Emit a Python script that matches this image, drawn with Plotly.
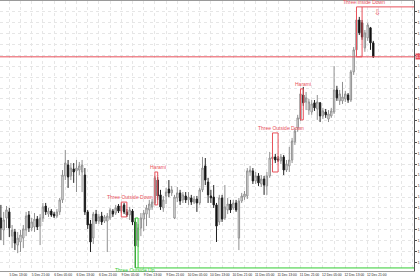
import plotly.graph_objects as go

# ---------------- data (H1 candles, 5 Dec 10:00 -> 12 Dec 23:00) ----------------
open_ = [1.37004, 1.36949, 1.37004, 1.37032, 1.36921, 1.36940, 1.36880, 1.36894, 1.36912, 1.36949,
         1.37018, 1.36958, 1.36963, 1.36999, 1.36967, 1.37004, 1.37059, 1.37022, 1.37036, 1.37022,
         1.37013, 1.37032, 1.37087, 1.37197, 1.37247, 1.37197, 1.37229, 1.37220, 1.37224, 1.37215,
         1.37201, 1.37032, 1.36977, 1.36912, 1.37022, 1.36990, 1.37013, 1.36990, 1.36990, 1.37004,
         1.37036, 1.37027, 1.37059, 1.37036, 1.37064, 1.37032, 1.37018, 1.37036, 1.36986, 1.36903,
         1.36958, 1.36999, 1.37022, 1.37041, 1.37055, 1.37073, 1.37178, 1.37110, 1.37050, 1.37105,
         1.37137, 1.37119, 1.37004, 1.37096, 1.37119, 1.37087, 1.37105, 1.37087, 1.37096, 1.37077,
         1.37091, 1.37073, 1.37133, 1.37243, 1.37169, 1.37105, 1.37100, 1.37064, 1.36986, 1.37096,
         1.37004, 1.37041, 1.37068, 1.37050, 1.37073, 1.36912, 1.37082, 1.37100, 1.37105, 1.37215,
         1.37220, 1.37174, 1.37197, 1.37160, 1.37183, 1.37151, 1.37197, 1.37275, 1.37284, 1.37275,
         1.37266, 1.37284, 1.37224, 1.37243, 1.37270, 1.37353, 1.37417, 1.37458, 1.37568, 1.37536,
         1.37499, 1.37490, 1.37532, 1.37504, 1.37532, 1.37472, 1.37490, 1.37458, 1.37472, 1.37490,
         1.37591, 1.37541, 1.37541, 1.37550, 1.37568, 1.37545, 1.37674, 1.37775, 1.37912, 1.37899,
         1.37784, 1.37830, 1.37876, 1.37807]
high = [1.37064, 1.37032, 1.37059, 1.37050, 1.36972, 1.36954, 1.36940, 1.36949, 1.36972, 1.37032,
        1.37036, 1.37004, 1.37027, 1.37013, 1.37022, 1.37073, 1.37073, 1.37050, 1.37045, 1.37032,
        1.37045, 1.37096, 1.37224, 1.37316, 1.37270, 1.37256, 1.37256, 1.37270, 1.37261, 1.37270,
        1.37233, 1.37041, 1.36995, 1.37032, 1.37041, 1.37022, 1.37032, 1.37018, 1.37027, 1.37050,
        1.37045, 1.37064, 1.37068, 1.37073, 1.37073, 1.37045, 1.37055, 1.37045, 1.37004, 1.36977,
        1.37027, 1.37041, 1.37064, 1.37087, 1.37091, 1.37197, 1.37192, 1.37133, 1.37105, 1.37142,
        1.37178, 1.37151, 1.37110, 1.37146, 1.37133, 1.37123, 1.37123, 1.37123, 1.37110, 1.37105,
        1.37105, 1.37142, 1.37284, 1.37279, 1.37188, 1.37133, 1.37155, 1.37073, 1.37110, 1.37110,
        1.37155, 1.37096, 1.37087, 1.37087, 1.37087, 1.37096, 1.37119, 1.37128, 1.37233, 1.37243,
        1.37233, 1.37215, 1.37210, 1.37201, 1.37197, 1.37215, 1.37307, 1.37316, 1.37298, 1.37288,
        1.37298, 1.37293, 1.37270, 1.37330, 1.37371, 1.37417, 1.37477, 1.37591, 1.37605, 1.37582,
        1.37550, 1.37545, 1.37545, 1.37568, 1.37536, 1.37509, 1.37504, 1.37499, 1.37509, 1.37701,
        1.37610, 1.37591, 1.37628, 1.37587, 1.37577, 1.37683, 1.37788, 1.37921, 1.37926, 1.37912,
        1.37866, 1.37899, 1.37880, 1.37816]
low = [1.36903, 1.36880, 1.36958, 1.36917, 1.36866, 1.36857, 1.36843, 1.36848, 1.36866, 1.36921,
       1.36940, 1.36944, 1.36940, 1.36949, 1.36880, 1.36986, 1.37018, 1.37009, 1.37009, 1.37004,
       1.37004, 1.37018, 1.37073, 1.37178, 1.37142, 1.37178, 1.37165, 1.37123, 1.37201, 1.37123,
       1.37018, 1.36954, 1.36848, 1.36885, 1.36977, 1.36977, 1.36972, 1.36981, 1.36848, 1.36995,
       1.37009, 1.37018, 1.37027, 1.37027, 1.37022, 1.37009, 1.36995, 1.36972, 1.36775, 1.36871,
       1.36921, 1.36944, 1.36967, 1.37004, 1.37041, 1.37064, 1.37087, 1.37041, 1.37032, 1.37068,
       1.37100, 1.37105, 1.36999, 1.37077, 1.37064, 1.37073, 1.37073, 1.37064, 1.37064, 1.37068,
       1.37032, 1.37064, 1.37123, 1.37155, 1.37073, 1.37073, 1.37050, 1.36894, 1.36972, 1.36986,
       1.36995, 1.37022, 1.37027, 1.37041, 1.37032, 1.36857, 1.37073, 1.37087, 1.37091, 1.37197,
       1.37160, 1.37160, 1.37151, 1.37146, 1.37110, 1.37110, 1.37188, 1.37252, 1.37256, 1.37261,
       1.37252, 1.37201, 1.37215, 1.37215, 1.37256, 1.37339, 1.37399, 1.37449, 1.37518, 1.37499,
       1.37477, 1.37477, 1.37495, 1.37454, 1.37444, 1.37458, 1.37463, 1.37444, 1.37463, 1.37481,
       1.37541, 1.37522, 1.37527, 1.37536, 1.37532, 1.37536, 1.37660, 1.37766, 1.37843, 1.37821,
       1.37766, 1.37816, 1.37775, 1.37738]
close = [1.36958, 1.36995, 1.37041, 1.36958, 1.36949, 1.36889, 1.36912, 1.36926, 1.36954, 1.37013,
         1.36958, 1.36986, 1.36999, 1.36963, 1.37004, 1.37055, 1.37032, 1.37036, 1.37018, 1.37013,
         1.37032, 1.37087, 1.37201, 1.37256, 1.37192, 1.37233, 1.37215, 1.37233, 1.37243, 1.37247,
         1.37032, 1.36972, 1.36894, 1.37022, 1.36990, 1.37009, 1.36986, 1.37009, 1.37013, 1.37041,
         1.37022, 1.37050, 1.37036, 1.37059, 1.37032, 1.37018, 1.37041, 1.36986, 1.36876, 1.36958,
         1.37004, 1.37027, 1.37050, 1.37068, 1.37077, 1.37188, 1.37105, 1.37055, 1.37087, 1.37123,
         1.37119, 1.37133, 1.37100, 1.37119, 1.37082, 1.37110, 1.37087, 1.37100, 1.37077, 1.37091,
         1.37073, 1.37133, 1.37233, 1.37178, 1.37110, 1.37096, 1.37064, 1.36967, 1.37096, 1.36999,
         1.37055, 1.37068, 1.37041, 1.37073, 1.37041, 1.37082, 1.37105, 1.37114, 1.37220, 1.37224,
         1.37174, 1.37197, 1.37165, 1.37183, 1.37155, 1.37197, 1.37279, 1.37284, 1.37270, 1.37270,
         1.37284, 1.37224, 1.37252, 1.37270, 1.37357, 1.37403, 1.37463, 1.37573, 1.37532, 1.37555,
         1.37536, 1.37527, 1.37509, 1.37536, 1.37472, 1.37495, 1.37477, 1.37481, 1.37495, 1.37591,
         1.37555, 1.37573, 1.37559, 1.37573, 1.37545, 1.37674, 1.37775, 1.37912, 1.37853, 1.37834,
         1.37853, 1.37889, 1.37807, 1.37743]

bar = list(range(len(close)))

time_labels = ["5 Dec 13:00", "5 Dec 21:00", "6 Dec 05:00", "6 Dec 13:00", "6 Dec 21:00",
               "9 Dec 05:00", "9 Dec 13:00", "9 Dec 21:00", "10 Dec 05:00", "10 Dec 13:00",
               "10 Dec 21:00", "11 Dec 05:00", "11 Dec 13:00", "11 Dec 21:00", "12 Dec 05:00",
               "12 Dec 13:00", "12 Dec 21:00"]
first_label_bar = 3          # bar of 5 Dec 13:00

# candle patterns: name, first bar, last bar, box top, box bottom, bullish?
pat_names  = ["Three Outside Down", "Harami", "Three Outside Down", "Harami", "Three Inside Down", "Three Outside Up"]
pat_first  = [43, 55, 97, 107, 127, 48]
pat_last   = [45, 56, 99, 108, 129, 49]
pat_top    = [1.37077, 1.37215, 1.37394, 1.37596, 1.37972, 1.37004]
pat_bottom = [1.37009, 1.37064, 1.37215, 1.37454, 1.37743, 1.36775]
pat_bull   = [False, False, False, False, False, True]
pat_ray    = [False, False, False, False, True, True]

# ---------------- figure ----------------
RED = "#e8505a"
GREEN = "#33cc33"
FONT = "Liberation Sans"

fig = go.Figure()
fig.add_trace(go.Candlestick(
    x=bar, open=open_, high=high, low=low, close=close,
    increasing=dict(line=dict(color="#8f8f8f", width=1), fillcolor="white"),
    decreasing=dict(line=dict(color="#202020", width=1), fillcolor="black"),
    whiskerwidth=0, showlegend=False, hoverinfo="skip"))

shapes = []
annots = []
# current price line
shapes.append(dict(type="line", xref="paper", x0=0, x1=1, yref="y", y0=close[-1], y1=close[-1],
                   line=dict(color=RED, width=1)))
annots.append(dict(xref="paper", x=1, y=close[-1], xanchor="left", yanchor="middle",
                   text=f"{close[-1]:.5f}", showarrow=False, bgcolor=RED,
                   font=dict(size=4, color="white", family=FONT), borderpad=0, xshift=1))

for name, a, b, top, bot, bull, ray in zip(pat_names, pat_first, pat_last, pat_top, pat_bottom, pat_bull, pat_ray):
    col = GREEN if bull else RED
    shapes.append(dict(type="rect", x0=a, x1=b, y0=bot, y1=top, xref="x", yref="y",
                       line=dict(color=col, width=1), fillcolor="rgba(0,0,0,0)"))
    if ray:
        yr = bot if bull else top
        shapes.append(dict(type="line", x0=b, x1=148, xref="x", y0=yr, y1=yr, yref="y",
                           line=dict(color=col, width=1)))
    shift = round(0.2 * len(name) * 2.5)
    if bull:
        annots.append(dict(x=a, y=bot, xref="x", yref="y", text=name, showarrow=False,
                           xanchor="center", yanchor="middle", yshift=-2, xshift=0,
                           font=dict(size=5, color=col, family=FONT)))
    else:
        annots.append(dict(x=a, y=top, xref="x", yref="y", text=name, showarrow=False,
                           xanchor="center", yanchor="bottom", yshift=0, xshift=shift,
                           font=dict(size=5, color=col, family=FONT)))

# down arrow after the latest bearish pattern
annots.append(dict(x=pat_last[4] + 5.5, y=pat_top[4], xref="x", yref="y", text="⇩", showarrow=False,
                   xanchor="center", yanchor="top", yshift=1,
                   font=dict(size=8, color=RED, family="DejaVu Sans")))

tickvals = list(range(first_label_bar, 148, 4))
ticktext = []
for k, v in enumerate(tickvals):
    if k % 2 == 0 and k // 2 < len(time_labels):
        ticktext.append(time_labels[k // 2])
    else:
        ticktext.append("")

fig.update_layout(
    width=420, height=280,
    margin=dict(l=0, r=6, t=1, b=9, autoexpand=False),
    paper_bgcolor="white", plot_bgcolor="white",
    shapes=shapes, annotations=annots,
    xaxis=dict(range=[-0.32, 147.54], tickvals=tickvals, ticktext=ticktext, automargin=False,
               showgrid=True, gridcolor="#e6e6e6", griddash="dot", gridwidth=1,
               zeroline=False, rangeslider=dict(visible=False),
               showline=True, linecolor="#9a9a9a", linewidth=1, mirror=True,
               ticks="", ticklabelshift=9, ticklabelstandoff=0,
               tickfont=dict(size=3.3, color="#222", family=FONT)),
    yaxis=dict(range=[1.36761, 1.37999], side="right", dtick=0.0005, tick0=1.368, automargin=False,
               tickformat=".5f", showgrid=True, gridcolor="#e6e6e6", griddash="dot",
               zeroline=False, showline=True, linecolor="#555", linewidth=1,
               ticks="outside", ticklen=2, tickcolor="#555",
               tickfont=dict(size=3.3, color="#222", family=FONT)),
)

fig.write_html("out.html")
